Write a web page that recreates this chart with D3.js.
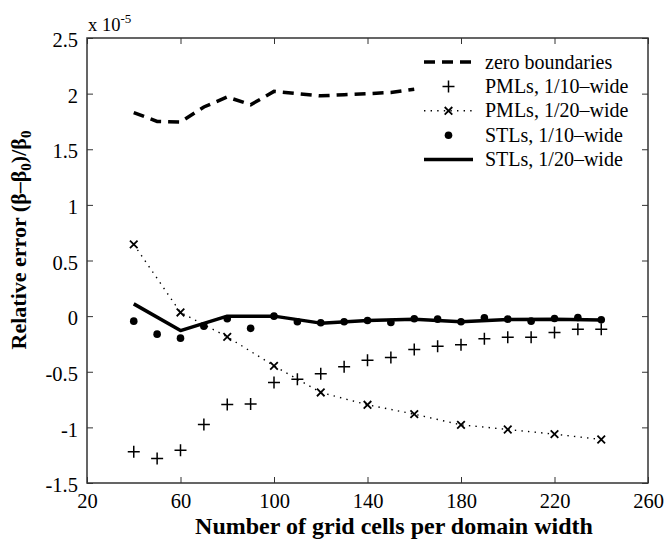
<!doctype html>
<html>
<head>
<meta charset="utf-8">
<script src="https://d3js.org/d3.v7.min.js"></script>
<style>
  body { margin: 0; background: #fff; }
</style>
</head>
<body>
<svg width="666" height="541" font-family="'Liberation Serif', 'DejaVu Serif', serif"></svg>
<script>
// values (units of 1e-5)
var xZero = [40, 50, 60, 70, 80, 90, 100, 110, 120, 130, 140, 150, 160];
var zeroBoundaries = [1.83, 1.75, 1.745, 1.88, 1.97, 1.90, 2.02, 2.00, 1.98, 1.99, 2.00, 2.01, 2.04];

var x10 = [40, 50, 60, 70, 80, 90, 100, 110, 120, 130, 140, 150, 160, 170, 180, 190, 200, 210, 220, 230, 240];
var pml10 = [-1.22, -1.28, -1.205, -0.975, -0.795, -0.79, -0.597, -0.567, -0.519, -0.456, -0.396, -0.372,
             -0.30, -0.27, -0.258, -0.204, -0.189, -0.189, -0.147, -0.117, -0.117];
var stl10 = [-0.045, -0.162, -0.198, -0.09, -0.024, -0.11, 0.0, -0.051, -0.06, -0.051, -0.039, -0.057,
             -0.024, -0.027, -0.051, -0.015, -0.027, -0.045, -0.021, -0.012, -0.033];

var x20 = [40, 60, 80, 100, 120, 140, 160, 180, 200, 220, 240];
var pml20 = [0.645, 0.033, -0.186, -0.447, -0.686, -0.797, -0.881, -0.977, -1.019, -1.061, -1.109];
var stl20 = [0.11, -0.13, 0.0, 0.0, -0.063, -0.04, -0.028, -0.05, -0.03, -0.027, -0.035];

var xTicks = [20, 60, 100, 140, 180, 220, 260];
var yTicks = [-1.5, -1, -0.5, 0, 0.5, 1, 1.5, 2, 2.5];
var legendLabels = ["zero boundaries", "PMLs, 1/10\u2013wide", "PMLs, 1/20\u2013wide", "STLs, 1/10\u2013wide", "STLs, 1/20\u2013wide"];

var serif = "'Liberation Serif', 'DejaVu Serif', serif";

var svg = d3.select("svg"),
    margin = {top: 38, right: 18, bottom: 58, left: 87},
    width = +svg.attr("width") - margin.left - margin.right,
    height = +svg.attr("height") - margin.top - margin.bottom,
    g = svg.append("g").attr("transform", "translate(" + margin.left + "," + margin.top + ")");

var x = d3.scaleLinear().domain([20, 260]).range([0, width]);
var y = d3.scaleLinear().domain([-1.5, 2.5]).range([height, 0]);

var axisColor = "#333";

// box axes with inward ticks on all four sides
function styleAxis(sel) {
  sel.attr("font-family", serif).attr("font-size", 20.5);
  sel.select(".domain").remove();
  sel.selectAll(".tick line").attr("stroke", axisColor);
  sel.selectAll(".tick text").attr("fill", "#000");
}
g.append("g").attr("transform", "translate(0," + height + ")")
  .call(d3.axisBottom(x).tickValues(xTicks).tickSize(-6).tickPadding(10).tickFormat(d3.format("d")))
  .call(styleAxis);
g.append("g")
  .call(d3.axisTop(x).tickValues(xTicks).tickSize(-6).tickFormat(""))
  .call(styleAxis);
g.append("g")
  .call(d3.axisLeft(y).tickValues(yTicks).tickSize(-6).tickPadding(9).tickFormat(function(d) { return String(d); }))
  .call(styleAxis)
  .selectAll(".tick text").attr("dy", "0.42em");
g.append("g").attr("transform", "translate(" + width + ",0)")
  .call(d3.axisRight(y).tickValues(yTicks).tickSize(-6).tickFormat(""))
  .call(styleAxis);
g.append("rect")
  .attr("width", width).attr("height", height)
  .attr("fill", "none").attr("stroke", axisColor).attr("stroke-width", 1.5);

var line = d3.line().x(function(d) { return x(d[0]); }).y(function(d) { return y(d[1]); });
function pairs(xs, ys) { return xs.map(function(v, i) { return [v, ys[i]]; }); }

// zero boundaries, dashed
g.append("path").datum(pairs(xZero, zeroBoundaries))
  .attr("fill", "none").attr("stroke", "#000").attr("stroke-width", 3.5)
  .attr("stroke-dasharray", "11,7").attr("d", line);

// PMLs 1/20, dotted with x markers
g.append("path").datum(pairs(x20, pml20))
  .attr("fill", "none").attr("stroke", "#000").attr("stroke-width", 1.4)
  .attr("stroke-dasharray", "1.4,5.2").attr("d", line);

function crossPath(s) { return "M" + (-s) + "," + (-s) + "L" + s + "," + s + "M" + (-s) + "," + s + "L" + s + "," + (-s); }
function plusPath(s) { return "M" + (-s) + ",0L" + s + ",0M0," + (-s) + "L0," + s; }

g.selectAll(".xm").data(pairs(x20, pml20)).enter().append("path")
  .attr("transform", function(d) { return "translate(" + x(d[0]) + "," + y(d[1]) + ")"; })
  .attr("d", crossPath(3.8)).attr("stroke", "#000").attr("stroke-width", 1.8);

// PMLs 1/10, plus markers
g.selectAll(".pm").data(pairs(x10, pml10)).enter().append("path")
  .attr("transform", function(d) { return "translate(" + x(d[0]) + "," + y(d[1]) + ")"; })
  .attr("d", plusPath(6)).attr("stroke", "#000").attr("stroke-width", 1.5);

// STLs 1/20, solid
g.append("path").datum(pairs(x20, stl20))
  .attr("fill", "none").attr("stroke", "#000").attr("stroke-width", 3.5)
  .attr("stroke-linejoin", "round").attr("d", line);

// STLs 1/10, dots
g.selectAll(".dot").data(pairs(x10, stl10)).enter().append("circle")
  .attr("cx", function(d) { return x(d[0]); }).attr("cy", function(d) { return y(d[1]); })
  .attr("r", 3.8).attr("fill", "#000");

// legend
var lg = svg.append("g").attr("transform", "translate(424,62)");
var rowH = 24.4;
legendLabels.forEach(function(lab, i) {
  var row = lg.append("g").attr("transform", "translate(0," + (i * rowH) + ")");
  if (i === 0) {
    row.append("line").attr("x1", 0).attr("x2", 49).attr("stroke", "#000").attr("stroke-width", 3.5).attr("stroke-dasharray", "11,7");
  } else if (i === 1) {
    row.append("path").attr("transform", "translate(24.5,0)").attr("d", plusPath(6)).attr("stroke", "#000").attr("stroke-width", 1.5);
  } else if (i === 2) {
    row.append("line").attr("x1", 0).attr("x2", 49).attr("stroke", "#000").attr("stroke-width", 1.4).attr("stroke-dasharray", "1.4,5.2");
    row.append("path").attr("transform", "translate(24.5,0)").attr("d", crossPath(3.8)).attr("stroke", "#000").attr("stroke-width", 1.8);
  } else if (i === 3) {
    row.append("circle").attr("cx", 24.5).attr("r", 3.8).attr("fill", "#000");
  } else {
    row.append("line").attr("x1", 0).attr("x2", 49).attr("stroke", "#000").attr("stroke-width", 3.5);
  }
  row.append("text").attr("x", 61).attr("dy", "0.33em").attr("font-size", 20).text(lab);
});

// exponent label
var ex = svg.append("text").attr("x", 88).attr("y", 31).attr("font-size", 18.5);
ex.append("tspan").text("x 10");
ex.append("tspan").attr("font-size", 13).attr("dy", -8).text("-5");

// axis titles
svg.append("text")
  .attr("x", 394).attr("y", 534)
  .attr("text-anchor", "middle").attr("font-size", 24).attr("font-weight", "bold")
  .text("Number of grid cells per domain width");

var yl = svg.append("text")
  .attr("transform", "translate(26,240) rotate(-90)")
  .attr("text-anchor", "middle").attr("font-size", 22).attr("font-weight", "bold");
yl.append("tspan").text("Relative error (\u03b2\u2013\u03b2");
yl.append("tspan").attr("font-size", 15).attr("dy", 5).text("0");
yl.append("tspan").attr("dy", -5).text(")/\u03b2");
yl.append("tspan").attr("font-size", 15).attr("dy", 5).text("0");
</script>
</body>
</html>
